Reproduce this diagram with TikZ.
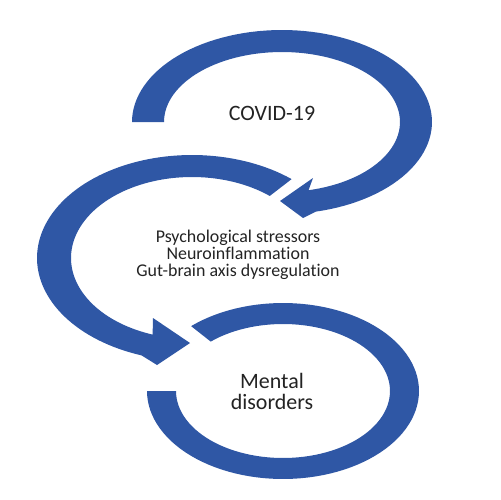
\documentclass[tikz,border=0pt]{standalone}
\usepackage{fontspec}
\setmainfont[Ligatures=NoCommon]{Carlito}
\definecolor{arrowblue}{RGB}{47,87,165}
\definecolor{txt}{RGB}{35,35,35}
\begin{document}
\begin{tikzpicture}[x=0.02cm,y=-0.02cm,
  band/.style={fill=arrowblue,draw=none},
  label/.style={text=txt,align=center,inner sep=0pt}]
\useasboundingbox (0,0) rectangle (500,500);
% top circular arrow
\path[band] plot[domain=180:437,samples=90] ({282+150*cos(\x)},{122+92*sin(\x)})
  -- (303,218) -- (280,201) -- (313,178)
  -- plot[domain=437:180,samples=90] ({282+118*cos(\x)},{122+70*sin(\x)}) -- cycle;
% middle circular arrow
\path[band] plot[domain=-50:-251,samples=90] ({192+155*cos(\x)},{258+103*sin(\x)})
  -- (157,365) -- (190,343) -- (153,318)
  -- plot[domain=-251:-50,samples=90] ({192+121*cos(\x)},{258+81*sin(\x)}) -- cycle;
% bottom ring
\path[band] plot[domain=227.5:540,samples=100] ({283+136*cos(\x)},{391+88*sin(\x)})
  -- plot[domain=540:227.5,samples=100] ({283+107*cos(\x)},{391+67*sin(\x)}) -- cycle;
% texts
\node[label,font=\fontsize{12.5}{14}\selectfont] (covid) at (272,113) {COVID-19};
\node[label,font=\fontsize{10.2}{9.7}\selectfont] (stress) at (238,255) {Psychological stressors\\Neuroinflammation\\Gut-brain axis dysregulation};
\node[label,font=\fontsize{12.5}{12}\selectfont] (mental) at (272,391) {Mental\\disorders};
\end{tikzpicture}
\end{document}
